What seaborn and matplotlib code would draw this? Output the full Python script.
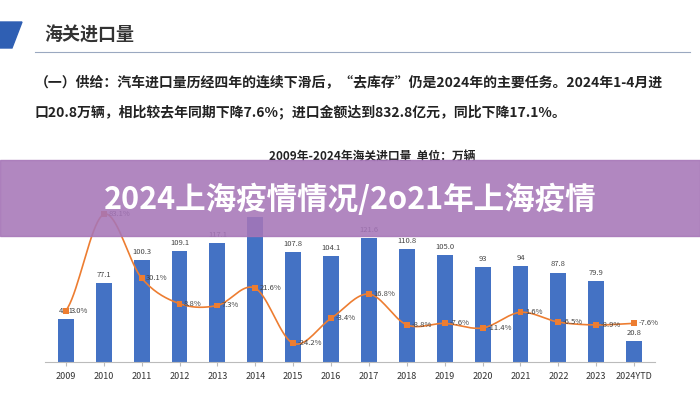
import numpy as np
import matplotlib.pyplot as plt
import seaborn as sns
from matplotlib.patches import Rectangle, Polygon

plt.rcParams['font.family'] = 'Noto Sans CJK SC'

years = ['2009', '2010', '2011', '2012', '2013', '2014', '2015', '2016',
         '2017', '2018', '2019', '2020', '2021', '2022', '2023', '2024YTD']
volume = [42.1, 77.1, 100.3, 109.1, 117.1, 142, 107.8, 104.1,
          121.6, 110.8, 105.0, 93, 94, 87.8, 79.9, 20.8]
volume_labels = ['42.1', '77.1', '100.3', '109.1', '117.1', '142', '107.8', '104.1',
                 '121.6', '110.8', '105.0', '93', '94', '87.8', '79.9', '20.8']
growth = [3.0, 83.1, 30.1, 8.8, 7.3, 21.6, -24.2, -3.4,
          16.8, -8.8, -7.6, -11.4, 1.6, -6.5, -8.9, -7.6]

W, H = 700, 400
fig = plt.figure(figsize=(7, 4), dpi=100)
fig.patch.set_facecolor('white')

def fx(px):
    return px / W

def fy(py):
    return 1 - py / H

# header
fig.patches.append(Polygon([(0, fy(22)), (fx(22), fy(22)), (fx(12), fy(48)), (0, fy(48))],
                           closed=True, transform=fig.transFigure, color='#2f5fb3'))
fig.text(fx(44), fy(35), '海关进口量', fontsize=13, fontweight='bold', color='#333333', va='center')
fig.add_artist(plt.Line2D([fx(35), fx(690)], [fy(52), fy(52)], color='#9aa8c0', lw=0.8,
                          transform=fig.transFigure))
fig.text(fx(35), fy(82), '（一）供给：汽车进口量历经四年的连续下滑后，“去库存”仍是2024年的主要任务。2024年1-4月进',
         fontsize=10, fontweight='bold', color='#222222', va='center')
fig.text(fx(35), fy(112), '口20.8万辆，相比较去年同期下降7.6%；进口金额达到832.8亿元，同比下降17.1%。',
         fontsize=10, fontweight='bold', color='#222222', va='center')
fig.text(fx(372), fy(156), '2009年-2024年海关进口量  单位：万辆', fontsize=8.5,
         fontweight='bold', color='#222222', va='center', ha='center')

# chart
left, right, top, bottom = 45, 655, 200, 362
ax = fig.add_axes([fx(left), fy(bottom), fx(right - left), (bottom - top) / H])
x = np.arange(len(years))
sns.barplot(x=x, y=volume, color='#4472c4', width=0.42, saturation=1, ax=ax)
ax.set_ylim(0, 159)
ax.set_xlim(-0.55, len(years) - 0.45)
for xi, v, lab in zip(x, volume, volume_labels):
    ax.text(xi, v + 4, lab, ha='center', va='bottom', fontsize=5.5, color='#444444')
ax.set_xticks(x)
ax.set_xticklabels(years, fontsize=6.5, color='#333333')
ax.set_yticks([])
ax.set_xlabel('')
for s in ['top', 'right', 'left']:
    ax.spines[s].set_visible(False)
ax.spines['bottom'].set_color('#bbbbbb')
ax.tick_params(axis='x', length=3, color='#bbbbbb', pad=4)
ax.patch.set_alpha(0)

ax2 = ax.twinx()
ax2.set_ylim(-39.7, 95)
# smooth curve through points (Catmull-Rom)
g = np.array(growth, dtype=float)
xs, ys = [], []
for i in range(len(g) - 1):
    p0 = g[max(i - 1, 0)]
    p1, p2 = g[i], g[i + 1]
    p3 = g[min(i + 2, len(g) - 1)]
    t = np.linspace(0, 1, 20)
    yy = 0.5 * (2 * p1 + (-p0 + p2) * t + (2 * p0 - 5 * p1 + 4 * p2 - p3) * t ** 2
                + (-p0 + 3 * p1 - 3 * p2 + p3) * t ** 3)
    xs.extend(i + t)
    ys.extend(yy)
ax2.plot(xs, ys, color='#ed7d31', lw=1.2, clip_on=False)
sns.scatterplot(x=x, y=growth, color='#ed7d31', marker='s', s=18, edgecolor='none',
                ax=ax2, clip_on=False, zorder=5)
for xi, v in zip(x, growth):
    ax2.text(xi + 0.12, v, f'{v:.1f}%', fontsize=5.5, color='#444444', va='center')
ax2.set_yticks([])
for s in ax2.spines.values():
    s.set_visible(False)

# overlay banner
fig.patches.append(Rectangle((0, fy(236)), 1, 76 / H, transform=fig.transFigure,
                             color='#a676b8', alpha=0.88, zorder=10))
fig.text(0.5, fy(200), '2024上海疫情情况/2o21年上海疫情', fontsize=22, fontweight='bold',
         color='white', ha='center', va='center', zorder=11)

fig.savefig('out.png', dpi=100)
